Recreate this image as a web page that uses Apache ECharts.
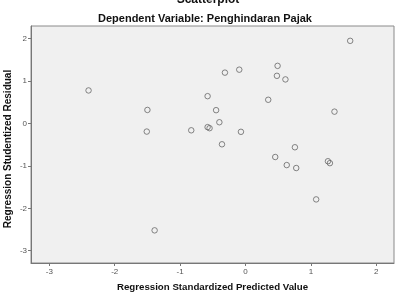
<!DOCTYPE html>
<html><head><meta charset="utf-8">
<script src="https://cdn.jsdelivr.net/npm/echarts@6/dist/echarts.min.js"></script>
<style>html,body{margin:0;padding:0;background:#fff}#c{width:398px;height:293px}</style>
</head><body><div id="c"></div>
<script>
const xTicks = [-3, -2, -1, 0, 1, 2];
const yTicks = [-3, -2, -1, 0, 1, 2];
const yName = 'Regression Studentized Residual';
const predicted = [-2.40, -1.50, -1.51, -0.83, -1.39, 1.60, -0.315, -0.096, 0.49, 0.48, 0.61, -0.58, 0.347, -0.45, -0.40, 1.36, -0.58, -0.55, -0.07, -0.36, 0.755, 0.454, 0.63, 0.775, 1.26, 1.29, 1.08];
const residual = [0.78, 0.32, -0.19, -0.16, -2.52, 1.95, 1.20, 1.27, 1.36, 1.125, 1.04, 0.645, 0.56, 0.315, 0.03, 0.28, -0.085, -0.11, -0.196, -0.49, -0.56, -0.79, -0.98, -1.05, -0.89, -0.935, -1.79];
const points = predicted.map((x, i) => [x, residual[i]]);
const chart = echarts.init(document.getElementById('c'), null, {renderer: 'canvas'});
const font = 'Liberation Sans, Arial, sans-serif';
chart.setOption({
  animation: false,
  backgroundColor: '#ffffff',
  title: [
    {text: 'Scatterplot', left: 203, textAlign: 'center', top: -11, textStyle: {fontFamily: font, fontSize: 12, fontWeight: 'bold', color: '#111'}},
    {text: 'Dependent Variable: Penghindaran Pajak', left: 200, textAlign: 'center', top: 8, textStyle: {fontFamily: font, fontSize: 11, fontWeight: 'bold', color: '#111'}}
  ],
  graphic: [{
    type: 'text', x: 8, y: 149, rotation: Math.PI / 2,
    style: {text: yName, fontFamily: font, fontSize: 10, fontWeight: 'bold', fill: '#111', align: 'center', verticalAlign: 'middle'}
  }],
  grid: {left: 31, right: 4, top: 26, bottom: 30, show: true, backgroundColor: '#f0f0f0', borderColor: '#8a8a8a', borderWidth: 1, containLabel: false, outerBoundsMode: 'none'},
  xAxis: {
    type: 'value', min: -3.28, max: 2.27,
    name: 'Regression Standardized Predicted Value', nameLocation: 'middle', nameGap: 19,
    nameTextStyle: {fontFamily: font, fontSize: 9.7, fontWeight: 'bold', color: '#111'},
    axisLine: {show: true, onZero: false, lineStyle: {color: '#777', width: 1}},
    axisTick: {show: true, length: 3, customValues: xTicks, lineStyle: {color: '#777'}},
    axisLabel: {customValues: xTicks, fontFamily: font, fontSize: 8, color: '#555', margin: 5},
    splitLine: {show: false}
  },
  yAxis: {
    type: 'value', min: -3.29, max: 2.30,
    axisLine: {show: true, onZero: false, lineStyle: {color: '#777', width: 1}},
    axisTick: {show: true, length: 3, customValues: yTicks, lineStyle: {color: '#777'}},
    axisLabel: {customValues: yTicks, fontFamily: font, fontSize: 8, color: '#555', margin: 4},
    splitLine: {show: false}
  },
  series: [{
    type: 'scatter', data: points, symbol: 'circle', symbolSize: 5.5,
    itemStyle: {color: 'rgba(0,0,0,0)', borderColor: '#666', borderWidth: 1}
  }]
});
</script></body></html>
